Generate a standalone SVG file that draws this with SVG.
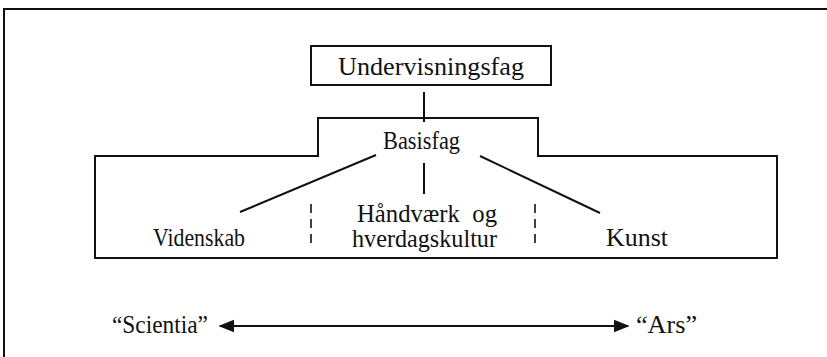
<svg xmlns="http://www.w3.org/2000/svg" width="827" height="357" viewBox="0 0 827 357">
  <defs>
    <style>
      .ln { stroke: #111; stroke-width: 2; fill: none; }
      .dash { stroke: #111; stroke-width: 1.6; stroke-dasharray: 9 6; fill: none; }
      .t { font-family: "Liberation Serif", "Times New Roman", Times, serif; font-size: 25px; fill: #111; }
    </style>
    <marker id="ah" viewBox="0 0 10 10" refX="9" refY="5" markerWidth="8" markerHeight="8" markerUnits="strokeWidth" orient="auto-start-reverse">
      <path d="M0,1 L10,5 L0,9 Z" fill="#111"/>
    </marker>
  </defs>
  <rect width="827" height="357" fill="#fff"/>
  <g id="frame">
    <path class="ln" d="M4,357 L4,9 L827,9"/>
  </g>
  <g id="undervisningsfag">
    <rect class="ln" x="311" y="46" width="240" height="39"/>
    <text class="t" font-family="Liberation Serif, serif" x="338" y="75" textLength="186" lengthAdjust="spacingAndGlyphs" font-size="27">Undervisningsfag</text>
  </g>
  <g id="basisfag">
    <path class="ln" d="M95,258 L95,156 L318,156 L318,118 L538,118 L538,156 L777,156 L777,258 Z"/>
    <text class="t" font-family="Liberation Serif, serif" x="383" y="149" textLength="77" lengthAdjust="spacingAndGlyphs">Basisfag</text>
  </g>
  <g id="videnskab">
    <text class="t" font-family="Liberation Serif, serif" x="153" y="246" textLength="92" lengthAdjust="spacingAndGlyphs">Videnskab</text>
  </g>
  <g id="haandvaerk">
    <text class="t" font-family="Liberation Serif, serif" x="357" y="222" textLength="140" lengthAdjust="spacingAndGlyphs" xml:space="preserve">Håndværk  og</text>
    <text class="t" font-family="Liberation Serif, serif" x="352" y="247" textLength="145" lengthAdjust="spacingAndGlyphs">hverdagskultur</text>
  </g>
  <g id="kunst">
    <text class="t" font-family="Liberation Serif, serif" x="606" y="246" textLength="62" lengthAdjust="spacingAndGlyphs">Kunst</text>
  </g>
  <g id="scientia">
    <text class="t" font-family="Liberation Serif, serif" x="112" y="333" textLength="96" lengthAdjust="spacingAndGlyphs">“Scientia”</text>
  </g>
  <g id="ars">
    <text class="t" font-family="Liberation Serif, serif" x="636" y="333" textLength="61" lengthAdjust="spacingAndGlyphs">“Ars”</text>
  </g>
  <g id="connectors">
    <line class="ln" x1="424" y1="92" x2="424" y2="122"/>
    <line class="ln" x1="376" y1="155" x2="240" y2="212"/>
    <line class="ln" x1="424" y1="163" x2="424" y2="194"/>
    <line class="ln" x1="480" y1="156" x2="600" y2="213"/>
    <line class="dash" x1="311" y1="204" x2="311" y2="247"/>
    <line class="dash" x1="535" y1="204" x2="535" y2="247"/>
    <line class="ln" x1="220" y1="326" x2="628" y2="326" marker-start="url(#ah)" marker-end="url(#ah)"/>
  </g>
</svg>
